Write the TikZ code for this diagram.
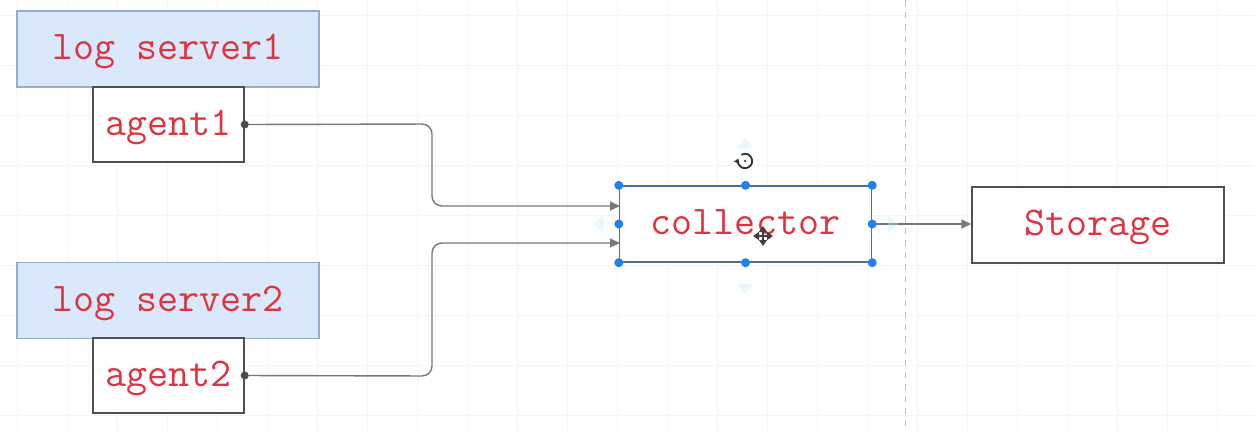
\documentclass[tikz,border=0pt]{standalone}
\usetikzlibrary{arrows.meta,calc}
\definecolor{txtred}{RGB}{222,52,64}
\definecolor{srvfill}{RGB}{218,232,252}
\definecolor{srvline}{RGB}{150,172,204}
\definecolor{boxline}{RGB}{80,80,80}
\definecolor{selline}{RGB}{80,110,150}
\definecolor{handle}{RGB}{30,130,240}
\definecolor{conncol}{RGB}{120,120,120}
\tikzset{
  lbl/.style={font=\ttfamily\fontsize{20.4}{22}\selectfont, text=txtred, inner sep=0pt, text height=14.5pt, text depth=4pt},
  server/.style={lbl, draw=srvline, fill=srvfill, line width=0.7pt, minimum width=151pt, minimum height=38pt},
  agentbox/.style={lbl, draw=boxline, fill=white, line width=0.7pt, minimum width=75.5pt, minimum height=37.5pt},
  bigbox/.style={lbl, draw=boxline, fill=white, line width=0.7pt, minimum width=126pt, minimum height=38pt},
  conn/.style={draw=conncol, line width=0.7pt, rounded corners=5pt, -{Triangle[length=5pt,width=4.5pt]}},
  srcdot/.style={circle, fill=black!70, inner sep=0pt, minimum size=4pt},
  hdl/.style={circle, fill=handle, inner sep=0pt, minimum size=4.5pt},
  hover/.style={fill=cyan!25, draw=none, opacity=0.35}
}
\begin{document}
\begin{tikzpicture}[x=0.5pt,y=-0.5pt]
\useasboundingbox (0,0) rectangle (1255,430);
\fill[white] (0,0) rectangle (1255,430);
% faint grid
\foreach \gx in {17,67,...,1255} \draw[black!4, line width=0.4pt] (\gx,0) -- (\gx,430);
\foreach \gy in {15,65,...,430} \draw[black!4, line width=0.4pt] (0,\gy) -- (1255,\gy);
% page break
\draw[black!25, dashed, line width=0.5pt] (905,0) -- (905,430);

% nodes
\node[server] (ls1) at (168,49) {log server1};
\node[agentbox] (a1) at (168.5,124.5) {agent1};
\node[server] (ls2) at (168,300.5) {log server2};
\node[agentbox] (a2) at (168.5,375.5) {agent2};
\node[bigbox, draw=selline] (coll) at (745.5,224) {collector};
\node[bigbox] (stor) at (1098,225) {Storage};

% connector points
\coordinate (in1) at (620,206);
\coordinate (in2) at (620,243);
\coordinate (b1a) at (432,124);
\coordinate (b1b) at (432,206);
\coordinate (b2a) at (432,376);
\coordinate (b2b) at (432,243);

\draw[conn] (a1.east) -- (b1a) -- (b1b) -- (in1);
\draw[conn] (a2.east) -- (b2a) -- (b2b) -- (in2);
\draw[conn] (coll.east) -- (coll.east -| stor.west);
\node[srcdot] at (a1.east) {};
\node[srcdot] at (a2.east) {};

% hover arrows (faint)
\fill[hover] (737,148) -- (753,148) -- (745,138) -- cycle;
\fill[hover] (737,284) -- (753,284) -- (745,294) -- cycle;
\fill[hover] (603,216) -- (603,232) -- (593,224) -- cycle;
\fill[hover] (888,216) -- (888,232) -- (898,224) -- cycle;

% selection handles
\foreach \p in {north west,north,north east,west,east,south west,south,south east}
  \node[hdl] at (coll.\p) {};

% rotate icon
\coordinate (rot) at (745,161);
\begin{scope}[shift={(rot)}, x=1pt, y=1pt]
\draw[black!80, line width=0.9pt, -{Triangle[length=2.2pt,width=2.8pt]}] (120:3.6) arc[start angle=120, end angle=-200, radius=3.6];
\fill[black!80] (0,0) circle (0.6);
\end{scope}

% move cursor
\begin{scope}[black!75, line width=0.7pt]
\draw[{Triangle[length=3pt,width=4pt]}-{Triangle[length=3pt,width=4pt]}] (753,236) -- (773,236);
\draw[{Triangle[length=3pt,width=4pt]}-{Triangle[length=3pt,width=4pt]}] (763,226) -- (763,246);
\end{scope}
\end{tikzpicture}
\end{document}
